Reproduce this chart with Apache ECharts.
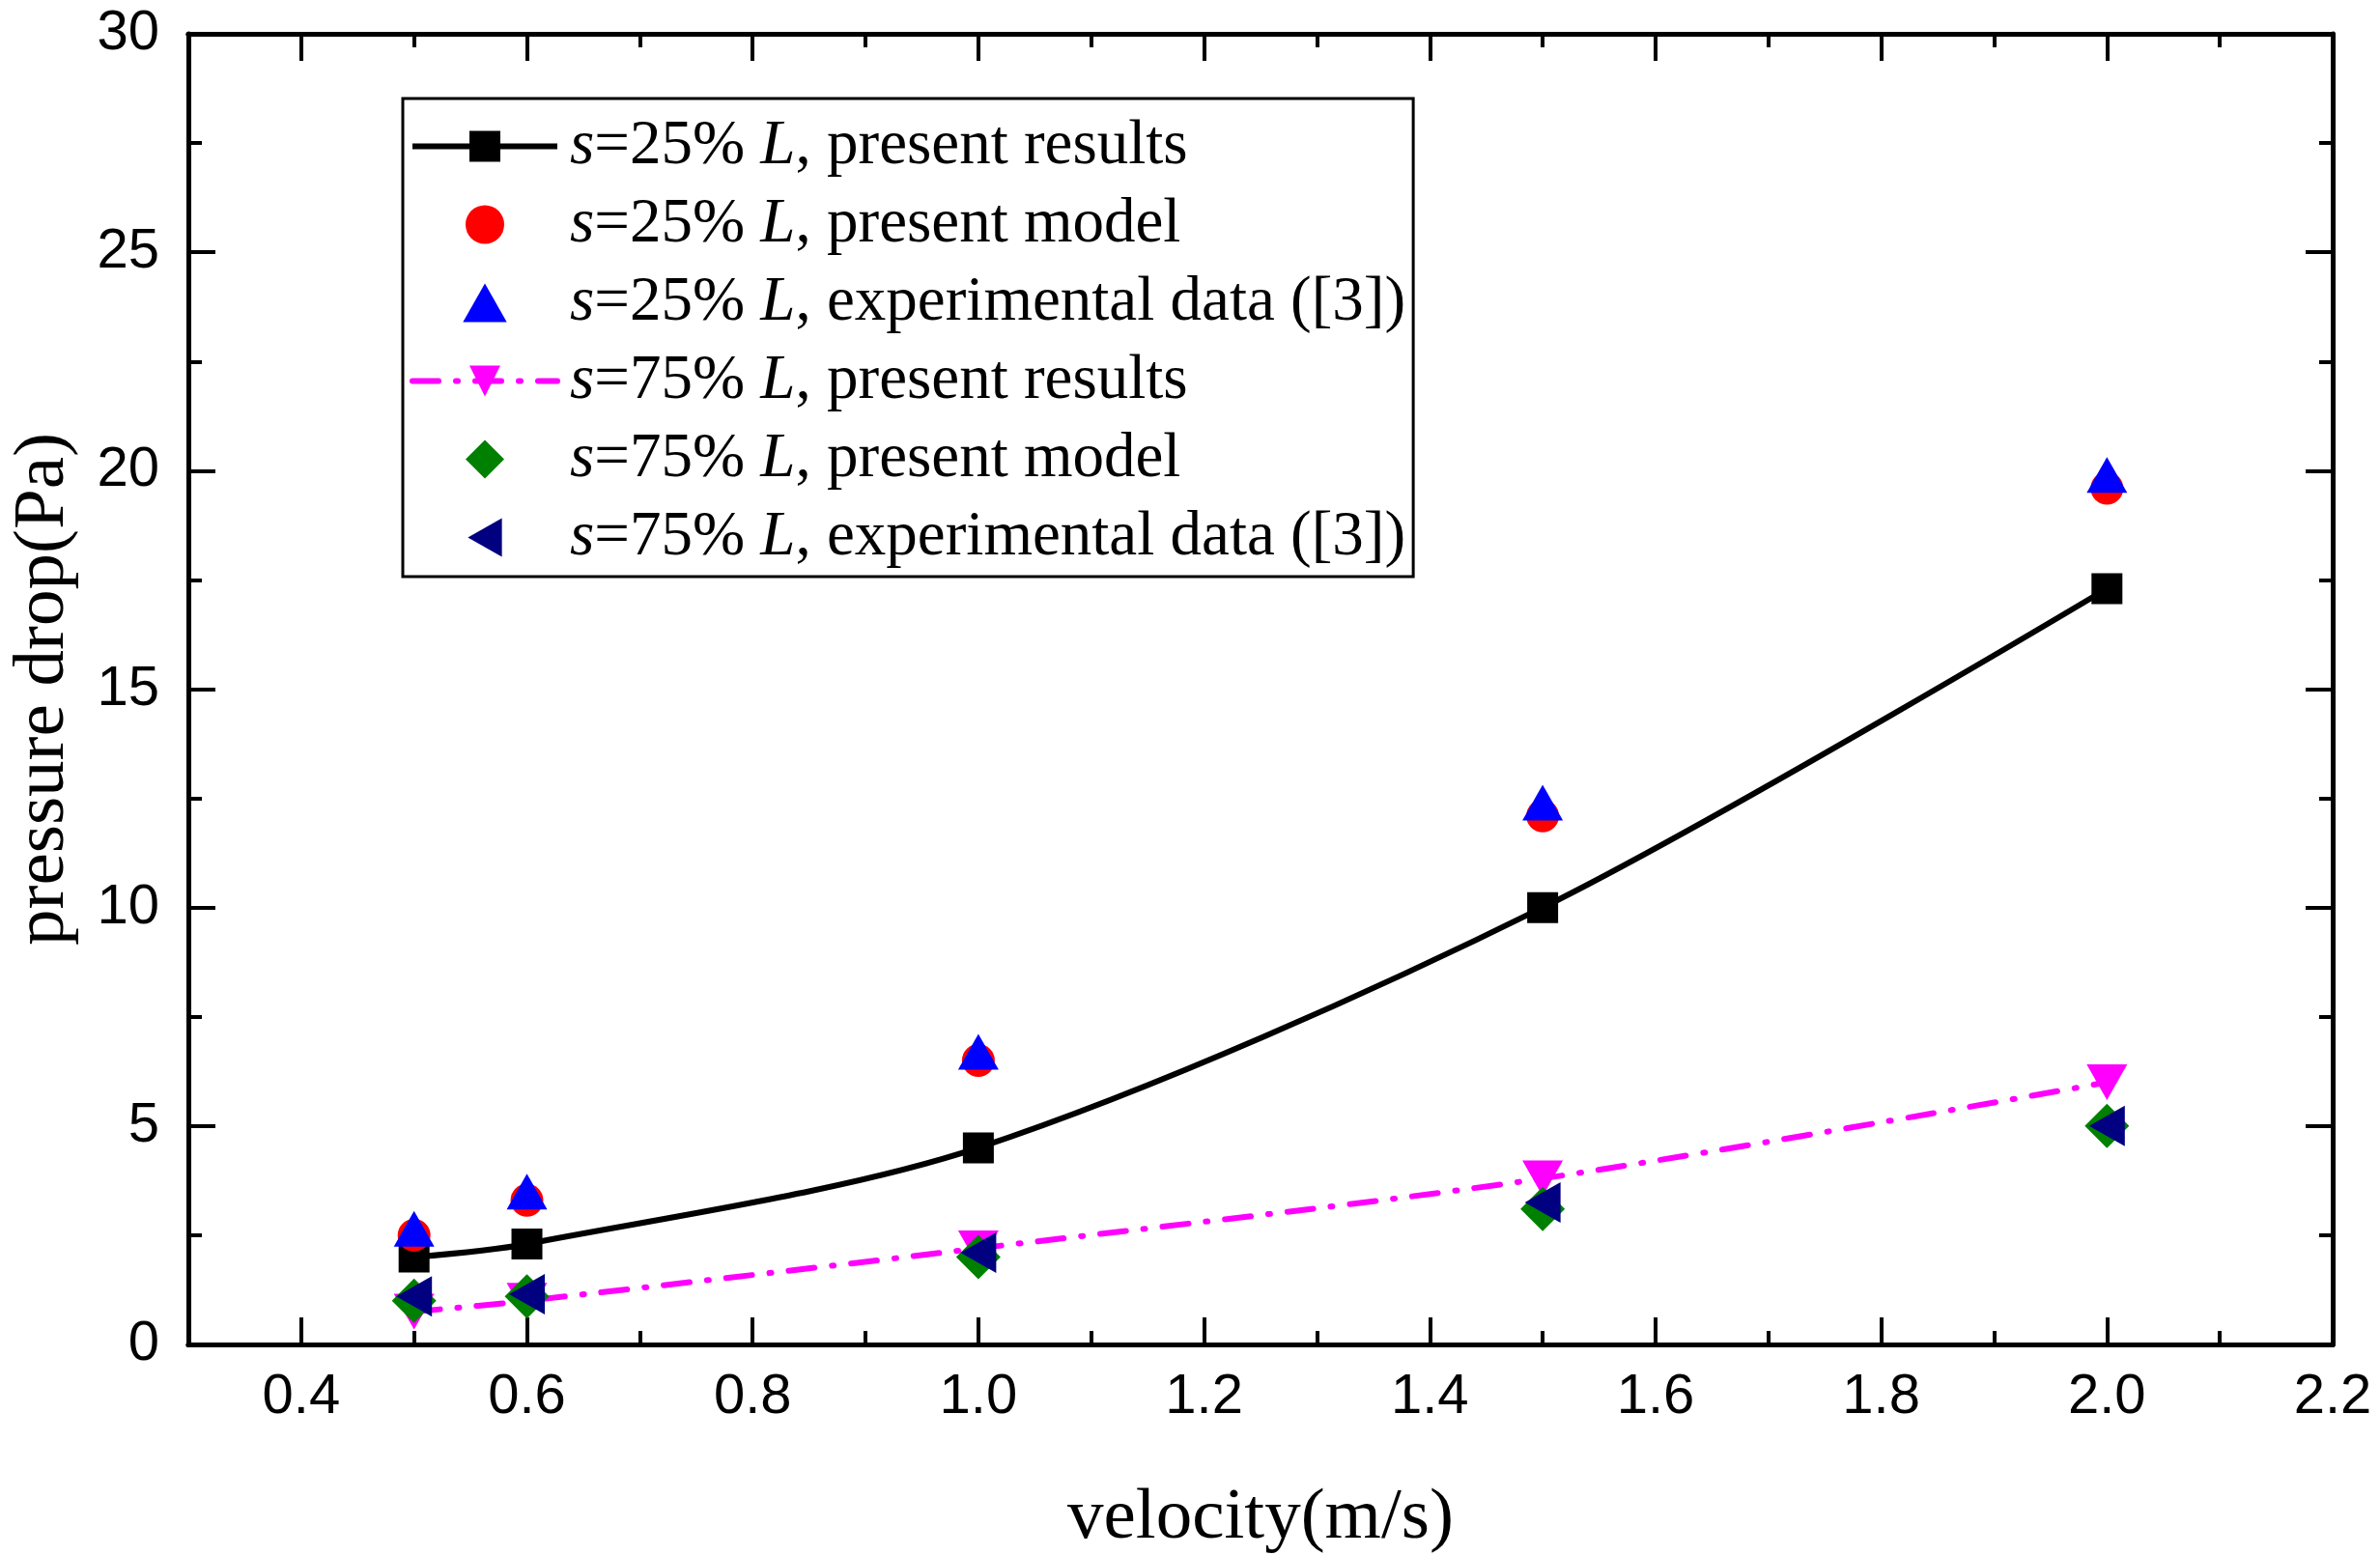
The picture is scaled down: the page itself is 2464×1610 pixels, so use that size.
<!DOCTYPE html>
<html>
<head>
<meta charset="utf-8">
<script src="https://cdn.jsdelivr.net/npm/echarts@6/dist/echarts.min.js"></script>
<style>
html,body{margin:0;padding:0;background:#fff;}
#chartmain{width:2464px;height:1610px;}
</style>
</head>
<body>
<div id="chartmain"></div>
<script>
var velocity=[0.5,0.6,1.0,1.5,2.0];
var s25Results=[2.0,2.3,4.5,10.0,17.3];
var s25Model=[2.5,3.3,6.5,12.1,19.6];
var s25Exp=[2.65,3.5,6.7,12.4,19.9];
var s75Results=[0.75,1.0,2.2,3.8,6.0];
var s75Model=[1.0,1.1,2.0,3.1,5.0];
var s75Exp=[1.1,1.15,2.1,3.25,5.0];
var xMajor=[0.4,0.6,0.8,1.0,1.2,1.4,1.6,1.8,2.0,2.2];
var xMinor=[0.5,0.7,0.9,1.1,1.3,1.5,1.7,1.9,2.1];
var names=[
	's=25% L, present results',
	's=25% L, present model',
	's=25% L, experimental data ([3])',
	's=75% L, present results',
	's=75% L, present model',
	's=75% L, experimental data ([3])'
];

function pairs(ys){
	var out=[];
	for(var i=0;i<velocity.length;i++){out.push([velocity[i],ys[i]]);}
	return out;
}

var serif='"Liberation Serif","Times New Roman",serif';
var sans='"Liberation Sans",Arial,sans-serif';
// symbols as paths so the legend keeps their shape
var triUp='path://M21,0L42,37L0,37Z';
var triLeft='path://M0,21L37,0L37,42Z';
var diamond='path://M23,0L46,23L23,46L0,23Z';

function xAx(pos,values,len,labels){
	return {
		type:'value',position:pos,min:0.3,max:2.2,
		axisLine:{show:true,lineStyle:{color:'#000',width:5}},
		axisTick:{show:true,inside:true,length:len,customValues:values,lineStyle:{color:'#000',width:4}},
		axisLabel:labels?{show:true,customValues:values,margin:26,fontSize:58,fontFamily:sans,color:'#000',
			formatter:function(v){return v.toFixed(1);}}:{show:false},
		splitLine:{show:false}
	};
}
function yAx(pos,labels){
	return {
		type:'value',position:pos,min:0,max:30,interval:5,
		axisLine:{show:true,lineStyle:{color:'#000',width:5}},
		axisTick:{show:true,inside:true,length:28,lineStyle:{color:'#000',width:4}},
		minorTick:{show:true,splitNumber:2,length:14,lineStyle:{color:'#000',width:4}},
		axisLabel:labels?{show:true,margin:30,fontSize:58,fontFamily:sans,color:'#000'}:{show:false},
		splitLine:{show:false},minorSplitLine:{show:false}
	};
}

var xMain=xAx('bottom',xMajor,28,true);
xMain.name='velocity(m/s)';
xMain.nameLocation='middle';
xMain.nameGap=143;
xMain.nameTextStyle={fontFamily:serif,fontSize:75,color:'#000'};
var yMain=yAx('left',true);
yMain.name='pressure drop(Pa)';
yMain.nameLocation='middle';
yMain.nameGap=112;
yMain.nameTextStyle={fontFamily:serif,fontSize:75,color:'#000'};

option={
	backgroundColor:'#fff',
	animation:false,
	grid:{left:195,right:49,top:35,bottom:218,outerBoundsMode:'none'},
	legend:{
		orient:'vertical',left:417,top:102,
		padding:[17,8,8,7],
		borderColor:'#000',borderWidth:3,
		itemWidth:150,itemHeight:40,itemGap:16,
		symbolKeepAspect:true,
		lineStyle:{width:'inherit',type:'inherit'},
		data:names,
		formatter:function(name){
			var parts=name.split(' L,');
			return '{i|s}'+parts[0].substring(1)+' {i|L},'+parts[1];
		},
		textStyle:{fontFamily:serif,fontSize:65,lineHeight:64,color:'#000',padding:[0,0,0,8],
			rich:{i:{fontFamily:serif,fontSize:65,lineHeight:64,fontStyle:'italic',color:'#000'}}}
	},
	xAxis:[xMain,xAx('bottom',xMinor,14,false),xAx('top',xMajor,28,false),xAx('top',xMinor,14,false)],
	yAxis:[yMain,yAx('right',false)],
	series:[
		{
			name:names[0],type:'line',z:1,smooth:0.3,data:pairs(s25Results),
			symbol:'rect',symbolSize:32,
			lineStyle:{color:'#000',width:6},itemStyle:{color:'#000'}
		},
		{
			name:names[1],type:'scatter',data:pairs(s25Model),
			symbol:'circle',symbolSize:34,itemStyle:{color:'#ff0000',opacity:1}
		},
		{
			name:names[2],type:'scatter',data:pairs(s25Exp),
			symbol:triUp,symbolSize:[42,37],itemStyle:{color:'#0000ff',opacity:1}
		},
		{
			name:names[3],type:'line',z:1,smooth:0.3,data:pairs(s75Results),
			symbol:'triangle',symbolRotate:180,symbolSize:[42,37],
			lineStyle:{color:'#ff00ff',width:6,type:[27,18,2,18],cap:'round'},itemStyle:{color:'#ff00ff'}
		},
		{
			name:names[4],type:'scatter',data:pairs(s75Model),
			symbol:diamond,symbolSize:46,itemStyle:{color:'#008000',opacity:1}
		},
		{
			name:names[5],type:'scatter',data:pairs(s75Exp),
			symbol:triLeft,symbolSize:[37,42],itemStyle:{color:'#000080',opacity:1}
		}
	]
};
var myChart=echarts.init(document.getElementById('chartmain'));
myChart.setOption(option);
</script>
</body>
</html>
